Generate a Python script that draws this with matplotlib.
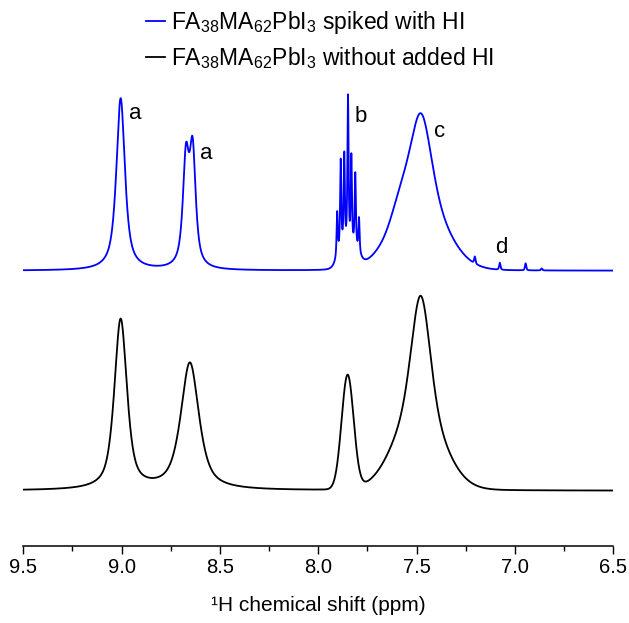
import numpy as np
import matplotlib
matplotlib.use('Agg')
import matplotlib.pyplot as plt
from matplotlib.ticker import MultipleLocator, FormatStrFormatter

plt.rcParams['font.family'] = ['Liberation Sans', 'DejaVu Sans']
plt.rcParams['mathtext.fontset'] = 'custom'
plt.rcParams['mathtext.rm'] = 'Liberation Sans'

# peaks: position (ppm), height above baseline, FWHM (ppm), lorentz fraction
blue_pos = [9.005, 8.673, 8.639,
            7.904, 7.886, 7.868, 7.849, 7.832, 7.812, 7.793, 7.878, 7.818,
            7.478, 7.490, 7.585,
            7.204, 7.077, 6.946, 6.864]
blue_height = [172, 104, 112,
               45, 90, 93, 152, 90, 74, 35, 16, 16,
               82, 75, 15,
               7, 7, 7, 2]
blue_fwhm = [0.052, 0.037, 0.037,
             0.007, 0.007, 0.007, 0.007, 0.007, 0.007, 0.007, 0.06, 0.06,
             0.12, 0.30, 0.10,
             0.008, 0.008, 0.008, 0.008]
blue_eta = [0.8, 0.8, 0.8,
            0.8, 0.8, 0.8, 0.8, 0.8, 0.8, 0.8, 0.0, 0.0,
            0.3, 0.0, 0.0,
            0.5, 0.5, 0.5, 0.5]
blue_base = 275

black_pos = [9.005, 8.653, 7.851, 7.479, 7.490]
black_height = [170, 127, 114, 115, 80]
black_fwhm = [0.076, 0.11, 0.072, 0.11, 0.28]
black_eta = [0.65, 0.7, 0.0, 0.3, 0.0]
black_base = 55

labels = ['a', 'a', 'b', 'c', 'd']
label_x = [8.932, 8.571, 7.785, 7.382, 7.068]
label_y = [427, 387, 424, 409, 293]

legend_text = [r'FA$_\mathregular{38}$MA$_\mathregular{62}$PbI$_\mathregular{3}$ spiked with HI',
               r'FA$_\mathregular{38}$MA$_\mathregular{62}$PbI$_\mathregular{3}$ without added HI']


def pseudo_voigt(x, c, h, w, eta):
    g = np.exp(-4 * np.log(2) * ((x - c) / w) ** 2)
    l = 1 / (1 + 4 * ((x - c) / w) ** 2)
    return h * (eta * l + (1 - eta) * g)


def spectrum(x, pos, height, fwhm, eta, base):
    y = np.full_like(x, float(base))
    for i in range(len(pos)):
        y += pseudo_voigt(x, pos[i], height[i], fwhm[i], eta[i])
    return y


ppm = np.linspace(9.5, 6.5, 6000)
y_blue = spectrum(ppm, blue_pos, blue_height, blue_fwhm, blue_eta, blue_base)
y_black = spectrum(ppm, black_pos, black_height, black_fwhm, black_eta, black_base)

fig = plt.figure(figsize=(6.29, 6.23), dpi=100)
ax = fig.add_axes([23.3 / 629, 77.3 / 623, 590 / 629, 545.7 / 623])

l1, = ax.plot(ppm, y_blue, color='#0000ff', lw=1.3)
l2, = ax.plot(ppm, y_black, color='black', lw=1.3)

for i in range(len(labels)):
    ax.text(label_x[i], label_y[i], labels[i], fontsize=16, ha='center', va='baseline')

ax.set_xlim(9.5, 6.5)
ax.set_ylim(0, 545.7)
ax.xaxis.set_major_locator(MultipleLocator(0.5))
ax.xaxis.set_minor_locator(MultipleLocator(0.25))
ax.xaxis.set_major_formatter(FormatStrFormatter('%.1f'))
ax.tick_params(axis='x', which='major', direction='out', length=5.8, width=1.0, labelsize=14.5, pad=3)
ax.tick_params(axis='x', which='minor', direction='out', length=3.6, width=1.0)
ax.set_yticks([])
for s in ['left', 'right', 'top']:
    ax.spines[s].set_visible(False)
ax.spines['bottom'].set_linewidth(1.1)
ax.set_xlabel('\u00b9H chemical shift (ppm)', fontsize=15, labelpad=14)

fig.legend([l1, l2], legend_text, loc='upper left', bbox_to_anchor=(146 / 629, 1 - 9 / 623),
           frameon=False, fontsize=16.5, handlelength=0.82, handletextpad=0.26,
           labelspacing=0.40, borderpad=0, borderaxespad=0)

fig.savefig('out.png', dpi=100)
